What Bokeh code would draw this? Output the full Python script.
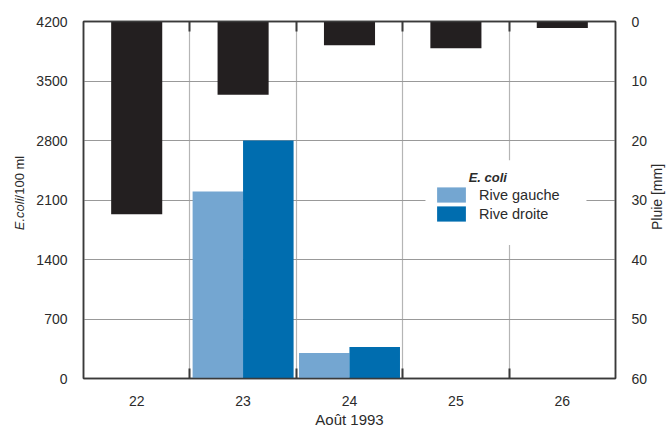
from bokeh.plotting import figure
from bokeh.models import (Range1d, LinearAxis, FixedTicker, Label, Legend, LegendItem,
                          BoxAnnotation, ColumnDataSource, Div)
from bokeh.layouts import row
from bokeh.transform import dodge
from bokeh.embed import file_html
from bokeh.resources import INLINE

# ---- data ----
days = [22, 23, 24, 25, 26]
day_labels = ["22", "23", "24", "25", "26"]
ecoli_gauche = [0, 2200, 300, 0, 0]
ecoli_droite = [0, 2800, 370, 0, 0]
pluie_mm = [32.4, 12.3, 4.0, 4.5, 1.1]
ecoli_ticks = [0, 700, 1400, 2100, 2800, 3500, 4200]
pluie_ticks = [0, 10, 20, 30, 40, 50, 60]
day_bounds = [22.5, 23.5, 24.5, 25.5]

FONT = "Liberation Sans"
TXT = "#2b2b2b"
DARK = "#3a3a3a"
LIGHT_BLUE = "#74A6D1"
DARK_BLUE = "#006DAF"
RAIN = "#231F20"

src = ColumnDataSource(dict(day=days, g=ecoli_gauche, d=ecoli_droite, rain=pluie_mm))

p = figure(width=621, height=430, output_backend="svg", toolbar_location=None,
           x_range=Range1d(21.5, 26.5), y_range=Range1d(0, 4200),
           min_border_left=53, min_border_right=36, min_border_top=21, min_border_bottom=51)
p.extra_y_ranges = {"rain": Range1d(start=60, end=0)}

p.outline_line_color = DARK
p.outline_line_width = 1.5
p.background_fill_color = "white"

# grids
p.ygrid.ticker = FixedTicker(ticks=ecoli_ticks)
p.ygrid.grid_line_color = "#999999"
p.ygrid.grid_line_width = 1
p.xgrid.ticker = FixedTicker(ticks=day_bounds)
p.xgrid.grid_line_color = "#b5b5b5"
p.xgrid.grid_line_width = 1.2

# left axis
la = p.yaxis[0]
la.ticker = FixedTicker(ticks=ecoli_ticks)
la.major_tick_line_color = None
la.minor_tick_line_color = None
la.axis_line_color = DARK
la.axis_line_width = 1.5
la.major_label_standoff = 10
la.major_label_text_font = FONT
la.major_label_text_font_size = "14px"
la.major_label_text_color = TXT

# right axis
ra = LinearAxis(y_range_name="rain", ticker=FixedTicker(ticks=pluie_ticks))
ra.major_tick_line_color = None
ra.minor_tick_line_color = None
ra.axis_line_color = DARK
ra.axis_line_width = 1.5
ra.major_label_standoff = 10
ra.major_label_text_font = FONT
ra.major_label_text_font_size = "14px"
ra.major_label_text_color = TXT
p.add_layout(ra, "right")

# bottom axis
ba = p.xaxis[0]
ba.ticker = FixedTicker(ticks=days, minor_ticks=day_bounds)
ba.major_label_overrides = {d: l for d, l in zip(days, day_labels)}
ba.major_tick_line_color = None
ba.minor_tick_line_color = DARK
ba.minor_tick_line_width = 2
ba.minor_tick_in = 10
ba.minor_tick_out = 0
ba.axis_line_color = DARK
ba.axis_line_width = 1.5
ba.major_label_standoff = 11
ba.major_label_text_font = FONT
ba.major_label_text_font_size = "14px"
ba.major_label_text_color = TXT
ba.axis_label = "Août 1993"
ba.axis_label_standoff = 2
ba.axis_label_text_font = FONT
ba.axis_label_text_font_size = "15px"
ba.axis_label_text_font_style = "normal"
ba.axis_label_text_color = TXT

# top axis (only inner ticks)
ta = LinearAxis(ticker=FixedTicker(ticks=days, minor_ticks=day_bounds))
ta.major_tick_line_color = None
ta.major_label_text_color = None
ta.major_label_text_font_size = "1px"
ta.major_label_standoff = 0
ta.minor_tick_line_color = DARK
ta.minor_tick_line_width = 2
ta.minor_tick_in = 10
ta.minor_tick_out = 0
ta.axis_line_color = DARK
ta.axis_line_width = 1.5
p.add_layout(ta, "above")

# bars
r_g = p.vbar(x=dodge("day", -0.237, range=p.x_range), top="g", bottom=0, width=0.475,
             source=src, fill_color=LIGHT_BLUE, line_color=None)
r_d = p.vbar(x=dodge("day", 0.237, range=p.x_range), top="d", bottom=0, width=0.475,
             source=src, fill_color=DARK_BLUE, line_color=None)
p.vbar(x="day", top="rain", bottom=0, width=0.48, source=src, y_range_name="rain",
       fill_color=RAIN, line_color=None)

# white area behind legend
p.add_layout(BoxAnnotation(left=24.714, right=26.227, bottom=1572, top=2569,
                           fill_color="white", fill_alpha=1.0, line_color=None))

legend = Legend(items=[LegendItem(label="Rive gauche", renderers=[r_g]),
                       LegendItem(label="Rive droite", renderers=[r_d])],
                location=(350, 155), spacing=0, padding=0, margin=0,
                glyph_width=36, glyph_height=19, label_height=19, label_standoff=10,
                background_fill_alpha=0, border_line_color=None,
                label_text_font=FONT, label_text_font_size="14.5px", label_text_color=TXT)
p.add_layout(legend)

p.add_layout(Label(x=25.12, y=2370, text="E. coli", text_font=FONT, text_font_size="13px",
                   text_font_style="bold italic", text_color=TXT, text_baseline="middle"))

# axis titles as rotated HTML text (left one is partly italic)
def vlabel(html, width, cx, cy, size):
    return Div(text=(
        f'<div style="position:relative;width:{width}px;height:430px;">'
        f'<div style="position:absolute;left:{cx}px;top:{cy}px;'
        'transform:translate(-50%,-50%) rotate(-90deg);white-space:nowrap;'
        f"font-family:'Liberation Sans';font-size:{size}px;color:#2b2b2b;\">"
        f'{html}</div></div>'),
        width=width, height=430, margin=0)

ylab_left = vlabel("<i>E.coli</i>/100 ml", 30, 20, 193, 13)
ylab_right = vlabel("Pluie [mm]", 20, 6, 197, 14)

layout = row(ylab_left, p, ylab_right, spacing=0)
open("out.html", "w").write(file_html(layout, INLINE))
